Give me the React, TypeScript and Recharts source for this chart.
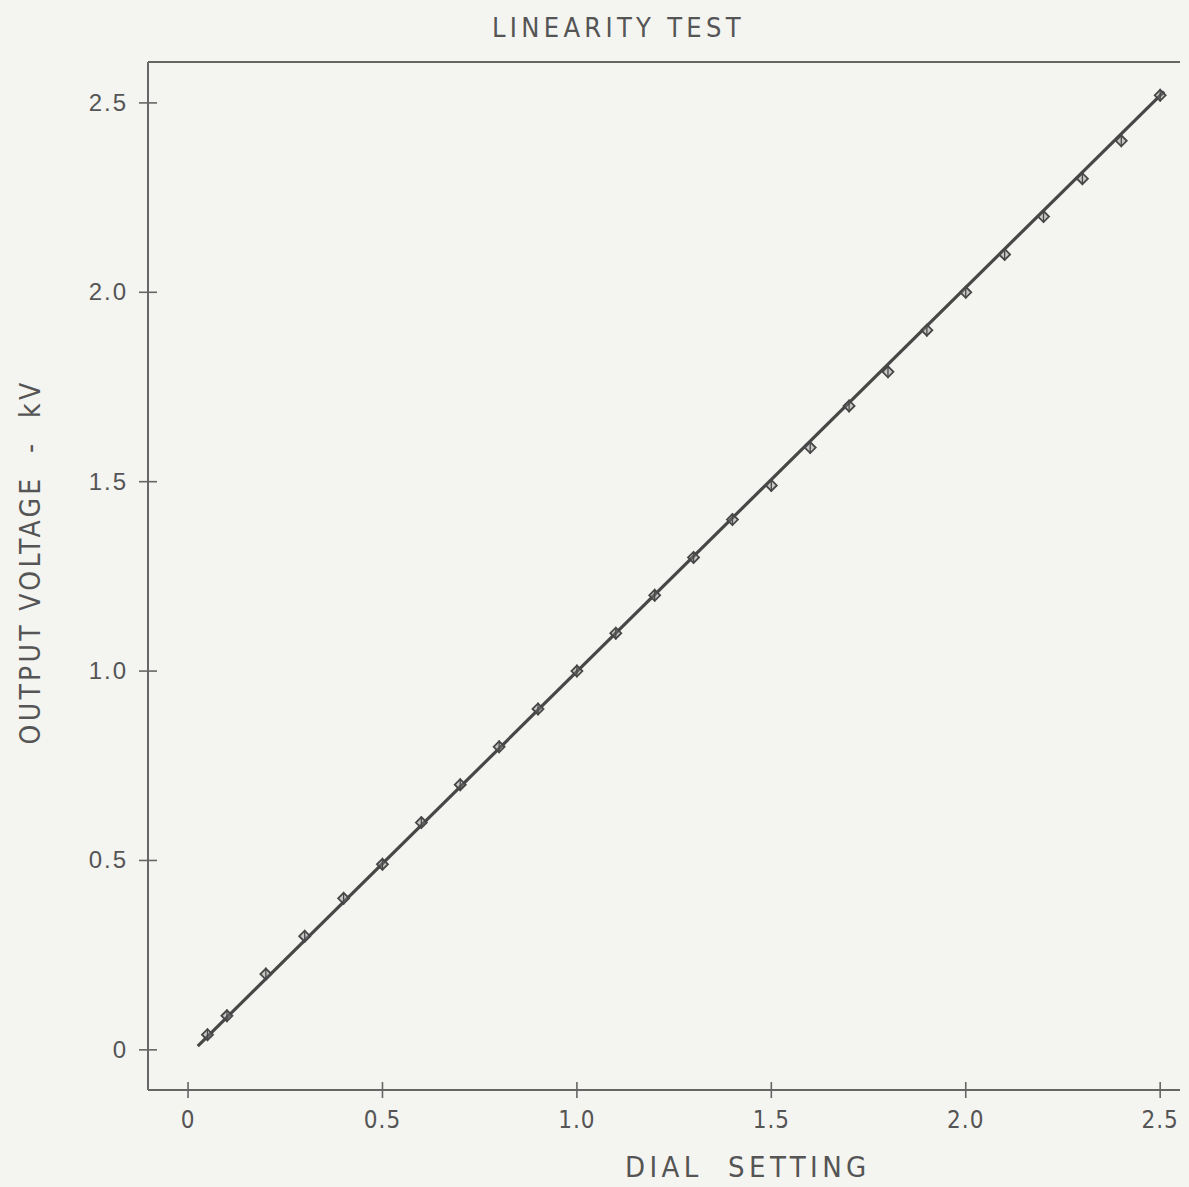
import React from "react";
import { ScatterChart, Scatter, XAxis, YAxis, ReferenceLine } from "recharts";

const dialSetting = [0.05, 0.1, 0.2, 0.3, 0.4, 0.5, 0.6, 0.7, 0.8, 0.9, 1.0, 1.1, 1.2, 1.3, 1.4, 1.5, 1.6, 1.7, 1.8, 1.9, 2.0, 2.1, 2.2, 2.3, 2.4, 2.5];
const outputVoltage = [0.04, 0.09, 0.2, 0.3, 0.4, 0.49, 0.6, 0.7, 0.8, 0.9, 1.0, 1.1, 1.2, 1.3, 1.4, 1.49, 1.59, 1.7, 1.79, 1.9, 2.0, 2.1, 2.2, 2.3, 2.4, 2.52];
const fitDial = [0.025, 2.51];
const fitVoltage = [0.01, 2.53];
const xTicks = [0, 0.5, 1.0, 1.5, 2.0, 2.5];
const xTickLabels = ["0", "0.5", "1.0", "1.5", "2.0", "2.5"];
const yTicks = [0, 0.5, 1.0, 1.5, 2.0, 2.5];
const yTickLabels = ["0", "0.5", "1.0", "1.5", "2.0", "2.5"];
const xDomain = [-0.103, 2.551];
const yDomain = [-0.106, 2.608];

const points = dialSetting.map((x, i) => ({ x, y: outputVoltage[i] }));
const fit = fitDial.map((x, i) => ({ x, y: fitVoltage[i] }));

const INK = "#474747";
const AXIS = "#666";
const TEXT = "#555";
const COND = "'DejaVu Sans Condensed', 'Liberation Sans Narrow', 'DejaVu Sans', sans-serif";

const Marker = (props: any) => {
  const { cx, cy } = props;
  if (cx == null || cy == null) return null;
  const s = 5.5;
  return (
    <g>
      <path d={`M${cx - s},${cy} L${cx},${cy - s} L${cx + s},${cy} L${cx},${cy + s} Z`} fill="#888" fillOpacity={0.4} stroke={INK} strokeWidth={1.8} />
      <line x1={cx} y1={cy - s - 1} x2={cx} y2={cy + s + 1} stroke={INK} strokeWidth={1.3} />
    </g>
  );
};

const XTick = (props: any) => {
  const { x, y, payload } = props;
  const idx = xTicks.indexOf(payload.value);
  const axisY = y - 18;
  return (
    <g>
      <line x1={x} y1={axisY - 8} x2={x} y2={axisY + 8} stroke={AXIS} strokeWidth={1.6} />
      <text x={x} y={y} dy={20} textAnchor="middle" fill={TEXT} fontSize={24} fontFamily={COND} letterSpacing={1}>
        {idx >= 0 ? xTickLabels[idx] : payload.value}
      </text>
    </g>
  );
};

const YTick = (props: any) => {
  const { x, y, payload } = props;
  const idx = yTicks.indexOf(payload.value);
  const axisX = x + 20;
  return (
    <g>
      <line x1={axisX - 9} y1={y} x2={axisX + 9} y2={y} stroke={AXIS} strokeWidth={1.6} />
      <text x={x} y={y} dy={8} textAnchor="end" fill={TEXT} fontSize={24} fontFamily="'Liberation Sans', Arial, sans-serif" letterSpacing={2}>
        {idx >= 0 ? yTickLabels[idx] : payload.value}
      </text>
    </g>
  );
};

const NoShape = () => <g />;

export default function App() {
  return (
    <div style={{ position: "absolute", left: 0, top: 0, width: 1189, height: 1187, background: "#f4f4f1", overflow: "hidden" }}>
      <div style={{ position: "absolute", left: 492, top: 12, fontFamily: COND, fontSize: 27, color: TEXT, letterSpacing: 4.3, whiteSpace: "pre" }}>
        LINEARITY TEST
      </div>
      <ScatterChart width={1189} height={1187} margin={{ top: 62, right: 9, bottom: 47, left: 48 }}>
        <XAxis
          type="number"
          dataKey="x"
          domain={xDomain}
          ticks={xTicks}
          height={50}
          tickSize={0}
          tickMargin={18}
          tickLine={false}
          tick={<XTick />}
          axisLine={{ stroke: AXIS, strokeWidth: 2 }}
          allowDataOverflow
        />
        <YAxis
          type="number"
          dataKey="y"
          domain={yDomain}
          ticks={yTicks}
          width={100}
          tickSize={0}
          tickMargin={20}
          tickLine={false}
          tick={<YTick />}
          axisLine={{ stroke: AXIS, strokeWidth: 2 }}
          allowDataOverflow
        />
        <ReferenceLine y={yDomain[1]} stroke={AXIS} strokeWidth={2} ifOverflow="visible" />
        <Scatter data={fit} line={{ stroke: INK, strokeWidth: 3.2 }} shape={<NoShape />} isAnimationActive={false} />
        <Scatter data={points} shape={<Marker />} isAnimationActive={false} />
      </ScatterChart>
      <div style={{ position: "absolute", left: 625, top: 1150, fontFamily: COND, fontSize: 29, color: TEXT, letterSpacing: 4.4, whiteSpace: "pre" }}>
        DIAL  SETTING
      </div>
      <div style={{ position: "absolute", left: 30, top: 562, transform: "translate(-50%, -50%) rotate(-90deg)", fontFamily: COND, fontSize: 28, color: TEXT, letterSpacing: 3.3, whiteSpace: "pre" }}>
        OUTPUT VOLTAGE  -  kV
      </div>
    </div>
  );
}
